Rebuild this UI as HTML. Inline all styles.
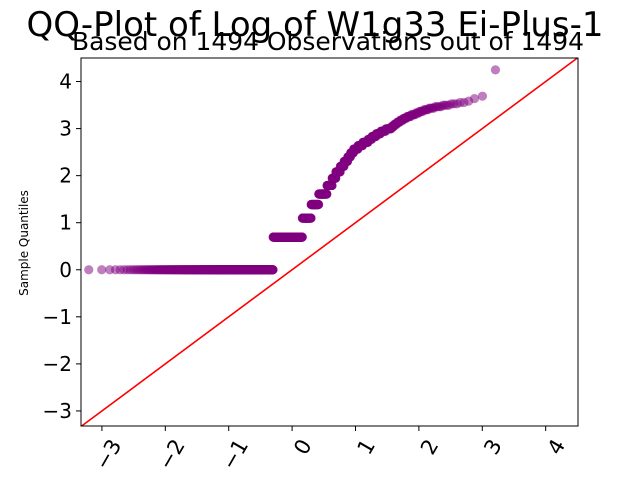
<!DOCTYPE html>
<html><head><meta charset="utf-8"><style>
body{margin:0;background:#fff;}
svg text{font-family:"DejaVu Sans","Liberation Sans",sans-serif;}
</style></head><body>
<svg id="c" width="640" height="480" xmlns="http://www.w3.org/2000/svg">
<rect width="640" height="480" fill="#fff"/>
<text x="315" y="36" font-size="34" text-anchor="middle" fill="#000" textLength="577" lengthAdjust="spacingAndGlyphs">QQ-Plot of Log of W1g33 Ei-Plus-1</text>
<text x="328" y="50" font-size="25" text-anchor="middle" fill="#000" textLength="512" lengthAdjust="spacingAndGlyphs">Based on 1494 Observations out of 1494</text>
<text x="28" y="243" font-size="12" text-anchor="middle" transform="rotate(-90 28 243)">Sample Quantiles</text>
<g id="marks"></g>
<g id="axes"></g>
</svg>
<script>
// sample levels (raw counts k, sample quantile = ln k) and their frequencies
const levels = [1,2,3,4,5,6,7,8,9,10,11,12,13,14,15,16,17,18,19,20,21,22,23,24,25,26,27,28,29,30,31,32,33,34,35,36,38,40,70];
const counts = [571,272,80,67,69,41,28,32,26,24,18,18,25,25,26,17,17,17,17,17,7,7,7,7,7,7,7,5,5,5,5,5,4,3,2,1,1,1,1];
const xTicks = [-3,-2,-1,0,1,2,3,4];
const yTicks = [-3,-2,-1,0,1,2,3,4];
const xDomain = [-3.33,4.51];
const yDomain = [-3.32,4.5];

const L=81,R=578,T=58,B=426;
const sx=v=>L+(v-xDomain[0])/(xDomain[1]-xDomain[0])*(R-L);
const sy=v=>B-(v-yDomain[0])/(yDomain[1]-yDomain[0])*(B-T);
const NS="http://www.w3.org/2000/svg";
function mk(t,a){const e=document.createElementNS(NS,t);for(const k in a)e.setAttribute(k,a[k]);return e;}

function ppf(p){
 const a=[-39.69683028665376,220.9460984245205,-275.9285104469687,138.3577518672690,-30.66479806614716,2.506628277459239];
 const b=[-54.47609879822406,161.5858368580409,-155.6989798598866,66.80131188771972,-13.28068155288572];
 const c=[-0.007784894002430293,-0.3223964580411365,-2.400758277161838,-2.549732539343734,4.374664141464968,2.938163982698783];
 const d=[0.007784695709041462,0.3224671290700398,2.445134137142996,3.754408661907416];
 const pl=0.02425;let q,r;
 if(p<pl){q=Math.sqrt(-2*Math.log(p));return (((((c[0]*q+c[1])*q+c[2])*q+c[3])*q+c[4])*q+c[5])/((((d[0]*q+d[1])*q+d[2])*q+d[3])*q+1);}
 if(p>1-pl){q=Math.sqrt(-2*Math.log(1-p));return -(((((c[0]*q+c[1])*q+c[2])*q+c[3])*q+c[4])*q+c[5])/((((d[0]*q+d[1])*q+d[2])*q+d[3])*q+1);}
 q=p-0.5;r=q*q;return (((((a[0]*r+a[1])*r+a[2])*r+a[3])*r+a[4])*r+a[5])*q/(((((b[0]*r+b[1])*r+b[2])*r+b[3])*r+b[4])*r+1);
}

const marks=document.getElementById('marks');
const n=counts.reduce((s,v)=>s+v,0);
let i=0;
levels.forEach((lv,j)=>{
 for(let m=0;m<counts[j];m++){
  i++;
  const tx=ppf(i/(n+1));
  const c=mk('circle',{cx:sx(tx).toFixed(2),cy:sy(Math.log(lv)).toFixed(2),r:4.6,fill:'#800080','fill-opacity':0.5});
  
  
  marks.appendChild(c);
 }
});

const axes=document.getElementById('axes');
const lo=Math.max(xDomain[0],yDomain[0]), hi=Math.min(xDomain[1],yDomain[1]);
const ln=mk('line',{x1:sx(lo),y1:sy(lo),x2:sx(hi),y2:sy(hi),stroke:'#ff0000','stroke-width':1.6});


axes.appendChild(ln);
const fr=mk('rect',{x:L,y:T,width:R-L,height:B-T,fill:'none',stroke:'#000','stroke-width':1});


axes.appendChild(fr);
xTicks.forEach(v=>{
 const x=sx(v);
 const t=mk('line',{x1:x,y1:B,x2:x,y2:B+5,stroke:'#000'});
 
 
 axes.appendChild(t);
 const lb=mk('text',{x:x+7,y:B+11,'font-size':21,'text-anchor':'end','dominant-baseline':'hanging',transform:`rotate(-60 ${x+7} ${B+11})`});
 lb.textContent=(v<0?'\u2212':'')+Math.abs(v);
 
 
 axes.appendChild(lb);
});
yTicks.forEach(v=>{
 const y=sy(v);
 const t=mk('line',{x1:L-5,y1:y,x2:L,y2:y,stroke:'#000'});
 
 
 axes.appendChild(t);
 const lb=mk('text',{x:L-9,y:y+7,'font-size':20,'text-anchor':'end'});
 lb.textContent=(v<0?'\u2212':'')+Math.abs(v);
 
 
 axes.appendChild(lb);
});
</script>
</body></html>
